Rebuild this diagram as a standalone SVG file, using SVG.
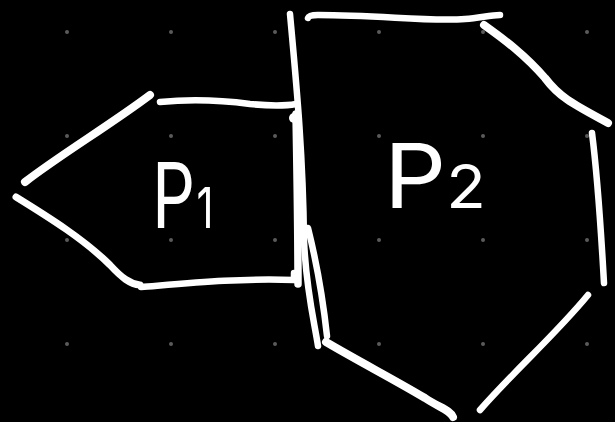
<svg xmlns="http://www.w3.org/2000/svg" width="615" height="422" viewBox="0 0 615 422">
<style>
.s{fill:none;stroke:#fff;stroke-width:6.5;stroke-linecap:round;stroke-linejoin:round}
.t{fill:#fff;stroke:none;font-family:Inter,"Open Sans","Liberation Sans",sans-serif;font-weight:400}
.d{fill:#5a5a5a}
</style>
<rect width="615" height="422" fill="#000"/>
<g id="grid">
<circle class="d" cx="67" cy="32" r="2"/><circle class="d" cx="171" cy="32" r="2"/><circle class="d" cx="275" cy="32" r="2"/><circle class="d" cx="379" cy="32" r="2"/><circle class="d" cx="483" cy="32" r="2"/><circle class="d" cx="587" cy="32" r="2"/>
<circle class="d" cx="67" cy="136" r="2"/><circle class="d" cx="171" cy="136" r="2"/><circle class="d" cx="275" cy="136" r="2"/><circle class="d" cx="379" cy="136" r="2"/><circle class="d" cx="483" cy="136" r="2"/><circle class="d" cx="587" cy="136" r="2"/>
<circle class="d" cx="67" cy="240" r="2"/><circle class="d" cx="171" cy="240" r="2"/><circle class="d" cx="275" cy="240" r="2"/><circle class="d" cx="379" cy="240" r="2"/><circle class="d" cx="483" cy="240" r="2"/><circle class="d" cx="587" cy="240" r="2"/>
<circle class="d" cx="67" cy="344" r="2"/><circle class="d" cx="171" cy="344" r="2"/><circle class="d" cx="275" cy="344" r="2"/><circle class="d" cx="379" cy="344" r="2"/><circle class="d" cx="483" cy="344" r="2"/><circle class="d" cx="587" cy="344" r="2"/>
</g>
<g id="P1">
<path class="s" d="M25,182 C60,155 110,125 150,95" style="stroke-width:8"/>
<path class="s" d="M160,102 C190,99 220,100 250,104 C270,106 285,106 296,104"/>
<path class="s" d="M16,197 C50,218 85,240 110,265 C122,278 130,284 140,285" style="stroke-width:7"/>
<path class="s" d="M141,287 C190,283 240,278 294,280 L294,273"/>
<path class="s" d="M296,114 C297,170 298,230 298,284" style="stroke-width:7.5"/>
<circle cx="294" cy="118" r="5" fill="#fff"/>
<text class="t" transform="translate(152,228) scale(0.75,1)" font-size="90">P<tspan font-size="56" dx="2">1</tspan></text>
</g>
<g id="P2">
<path class="s" d="M290,14 C296,80 303,150 304,240 C306,290 314,320 318,346"/>
<path class="s" d="M308,228 C316,260 322,290 327,336"/>
<path class="s" d="M308,18 Q309,15 318,15 C380,15 430,22 465,19 C480,18 490,15 500,15"/>
<path class="s" d="M484,25 C505,40 525,55 545,78 C560,98 575,105 608,123" style="stroke-width:8"/>
<path class="s" d="M592,133 C598,180 601,230 604,283"/>
<path class="s" d="M588,295 C555,335 515,370 480,410"/>
<path class="s" d="M326,342 C360,362 395,380 425,398 C440,408 450,410 453,417" style="stroke-width:8"/>
<text class="t" x="384" y="208" font-size="90" textLength="102" lengthAdjust="spacingAndGlyphs">P<tspan font-size="60">2</tspan></text>
</g>
<g id="connectors"/>
</svg>
